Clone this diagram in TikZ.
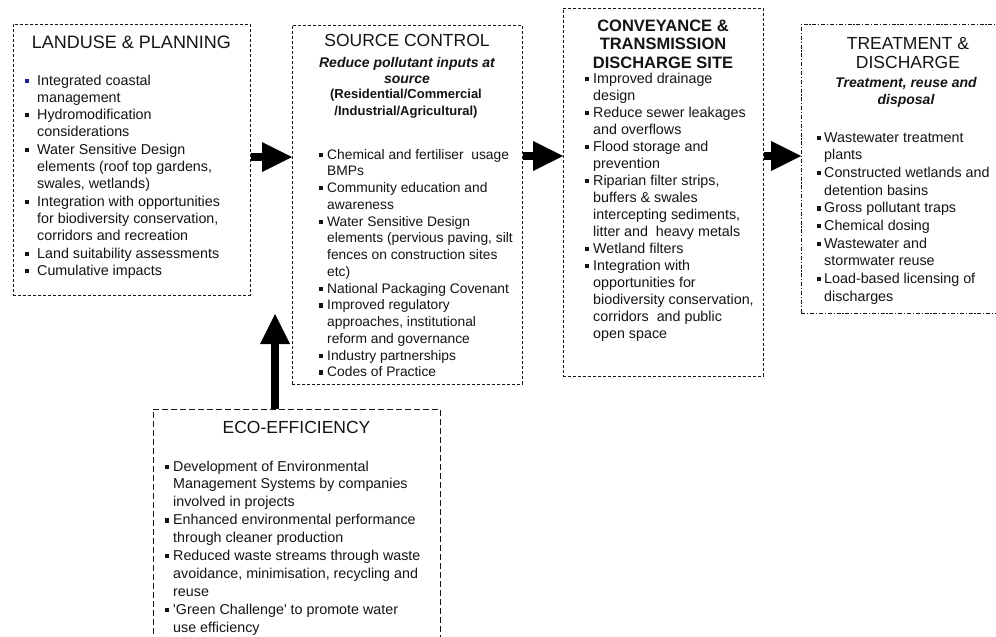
\documentclass[tikz,border=0pt]{standalone}
\usepackage{fontspec}
\setmainfont{Liberation Sans}
\newfontfamily\rawsans{Liberation Sans}
\usetikzlibrary{arrows.meta}
\definecolor{bulblue}{RGB}{30,30,140}
\definecolor{ink}{RGB}{20,20,20}
\newcommand\bsq{\rule[2.2pt]{4.2pt}{4.2pt}}
\newcommand\blist[2]{\begin{tabular}[t]{@{}l@{\hspace{#1}}l@{}}#2\end{tabular}}
\newcommand\clines[1]{\begin{tabular}[t]{@{}c@{}}#1\end{tabular}}
\begin{document}
\begin{tikzpicture}[x=1pt,y=-1pt,
  box/.style={draw=ink, line width=0.9pt, inner sep=0pt, anchor=north west, dash pattern=on 3pt off 2pt},
  ttl/.style={anchor=base, inner sep=0pt, text=ink, font=\fontsize{17.5}{19}\selectfont},
  lst/.style={anchor=base west, inner sep=0pt, text=ink},
  blockarr/.style={draw=black, line width=8pt, -{Triangle[length=30pt,width=30pt,line width=0pt]}},
]
\fill[white] (0,0) rectangle (996,637);
\useasboundingbox (0,0) rectangle (996,637);
\clip (0,0) rectangle (996,637);

% boxes
\node[box, minimum width=237pt, minimum height=271pt] (lu) at (13,24) {};
\node[box, minimum width=230pt, minimum height=359pt] (sc) at (292,25) {};
\node[box, minimum width=200pt, minimum height=368pt] (cv) at (563,8) {};
\node[box, dash pattern=on 4pt off 1.8pt on 1.2pt off 1.8pt, minimum width=215pt, minimum height=289pt] (tr) at (801,24) {};
\node[box, dash pattern=on 6pt off 3pt, minimum width=287pt, minimum height=260pt] (eco) at (153,409) {};

% titles
\node[ttl, font=\fontsize{18}{20}\selectfont] (lu-t) at (131.5,48.5) {LANDUSE \& PLANNING};
\node[ttl] (sc-t) at (407,46.5) {SOURCE CONTROL};
\node[ttl, font=\fontsize{14}{16}\selectfont\bfseries\itshape] (sc-s1) at (407,67) {\clines{Reduce pollutant inputs at\\source}};
\node[ttl, font=\fontsize{13}{17}\selectfont\bfseries] (sc-s2) at (406,98) {\clines{(Residential/Commercial\\/Industrial/Agricultural)}};
\node[ttl, font=\fontsize{16.5}{18.5}\selectfont\bfseries] (cv-t) at (663,31) {\clines{CONVEYANCE \&\\TRANSMISSION\\DISCHARGE SITE}};
\node[ttl] (tr-t) at (908,49.5) {\clines{TREATMENT \&\\DISCHARGE}};
\node[ttl, font=\fontsize{14}{17}\selectfont\bfseries\itshape] (tr-s) at (906,87) {\clines{Treatment, reuse and\\disposal}};
\node[ttl] (eco-t) at (296.5,433.5) {ECO-EFFICIENCY};

% lists
\node[lst, font=\fontsize{14.3}{17.3}\selectfont] (lu-l) at (25,85) {\blist{7.8pt}{%
\textcolor{bulblue}{\bsq} & Integrated coastal\\
 & management\\
\bsq & Hydromodification\\
 & considerations\\
\bsq & Water Sensitive Design\\
 & elements (roof top gardens,\\
 & swales, wetlands)\\
\bsq & Integration with opportunities\\
 & for biodiversity conservation,\\
 & corridors and recreation\\
\bsq & Land suitability assessments\\
\bsq & Cumulative impacts}};

\node[lst, font=\fontsize{13.8}{16.75}\selectfont] (sc-l) at (319,159) {\blist{3.8pt}{%
\bsq & Chemical and fertiliser~ usage\\
 & BMPs\\
\bsq & Community education and\\
 & awareness\\
\bsq & Water Sensitive Design\\
 & elements (pervious paving, silt\\
 & fences on construction sites\\
 & etc)\\
\bsq & National Packaging Covenant\\
\bsq & Improved regulatory\\
 & approaches, institutional\\
 & reform and governance\\
\bsq & Industry partnerships\\
\bsq & Codes of Practice}};

\node[lst, font=\fontsize{14.3}{17}\selectfont] (cv-l) at (585,83) {\blist{3.8pt}{%
\bsq & Improved drainage\\
 & design\\
\bsq & Reduce sewer leakages\\
 & and overflows\\
\bsq & Flood storage and\\
 & prevention\\
\bsq & Riparian filter strips,\\
 & buffers \& swales\\
 & intercepting sediments,\\
 & litter and~ heavy metals\\
\bsq & Wetland filters\\
\bsq & Integration with\\
 & opportunities for\\
 & biodiversity conservation,\\
 & corridors~ and public\\
 & open space}};

\node[lst, font=\fontsize{14.3}{17.7}\selectfont] (tr-l) at (817,142) {\blist{2.8pt}{%
\bsq & Wastewater treatment\\
 & plants\\
\bsq & Constructed wetlands and\\
 & detention basins\\
\bsq & Gross pollutant traps\\
\bsq & Chemical dosing\\
\bsq & Wastewater and\\
 & stormwater reuse\\
\bsq & Load-based licensing of\\
 & discharges}};

\node[lst, font=\fontsize{14.3}{17.9}\selectfont] (eco-l) at (165,471) {\blist{3.8pt}{%
\bsq & Development of Environmental\\
 & Management Systems by companies\\
 & involved in projects\\
\bsq & Enhanced environmental performance\\
 & through cleaner production\\
\bsq & Reduced waste streams through waste\\
 & avoidance, minimisation, recycling and\\
 & reuse\\
\bsq & {\rawsans 'Green Challenge'} to promote water\\
 & use efficiency}};

% arrows
\draw[blockarr] (lu.east |- 0,157) -- (sc.west |- 0,157);
\draw[blockarr] (sc.east |- 0,156) -- (cv.west |- 0,156);
\draw[blockarr] (cv.east |- 0,156) -- (tr.west |- 0,156);
\coordinate (uptip) at (275,314);
\draw[blockarr] (uptip |- eco.north) -- (uptip);
\end{tikzpicture}
\end{document}
